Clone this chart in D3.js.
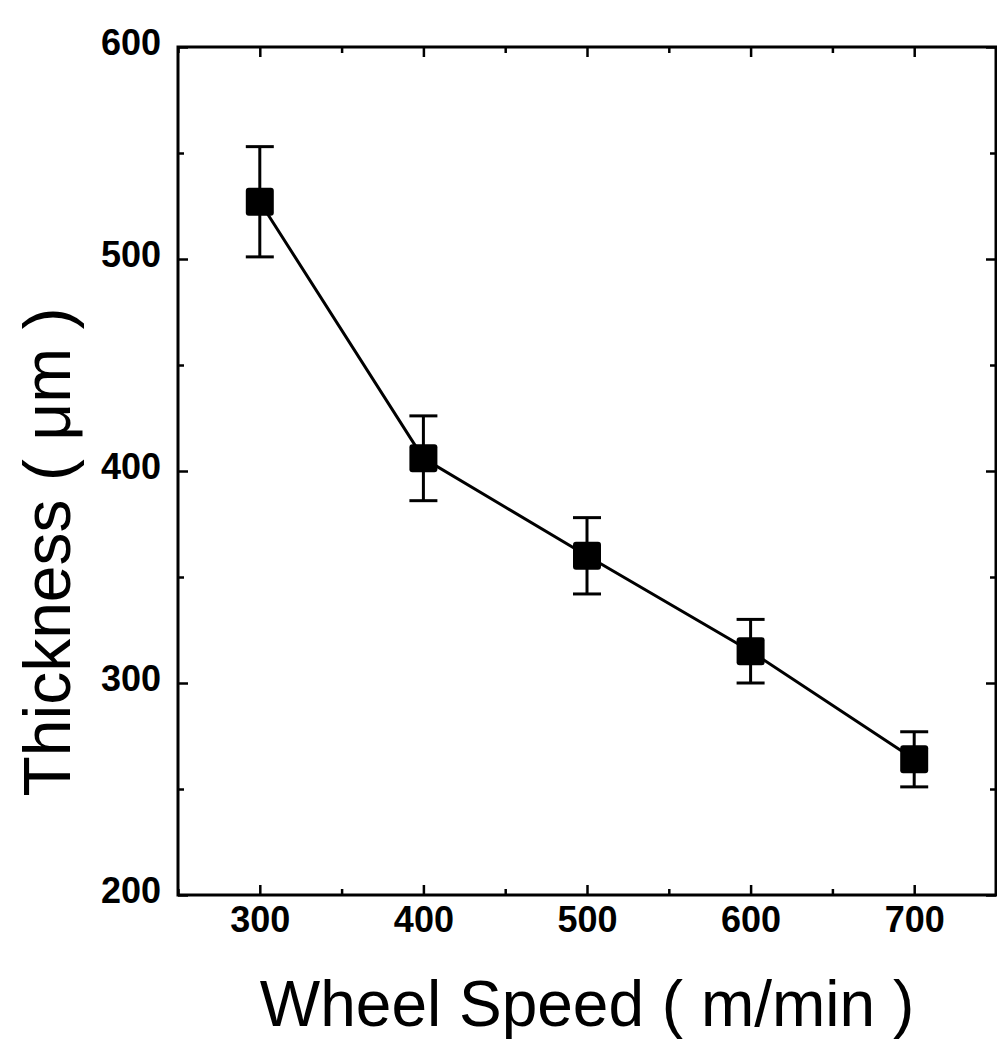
<!DOCTYPE html>
<html>
<head>
<meta charset="utf-8">
<script src="https://cdn.jsdelivr.net/npm/d3@7"></script>
<style>
  body { margin: 0; background: #fff; }
  svg { display: block; }
</style>
</head>
<body>
<svg id="svg" width="997" height="1042"></svg>
<script>
// wheel speed (m/min) vs ribbon thickness (um)
const speeds = [300, 400, 500, 600, 700];
const thickness = [527, 406, 360, 315, 264];
const errors = [26, 20, 18, 15, 13];
const xTicks = [300, 400, 500, 600, 700];
const yTicks = [200, 300, 400, 500, 600];

const data = speeds.map((s, i) => ({x: s, y: thickness[i], e: errors[i]}));

const margin = {top: 47, right: 1, bottom: 147, left: 178};
const width = 997, height = 1042;
const font = "Liberation Sans, Arial, sans-serif";

const svg = d3.select("#svg");

const x = d3.scaleLinear([250, 750], [margin.left, width - margin.right]);
const y = d3.scaleLinear([200, 600], [height - margin.bottom, margin.top]);

const minorX = d3.range(250, 751, 50).filter(v => v % 100 !== 0);
const minorY = d3.range(200, 601, 50).filter(v => v % 100 !== 0);

// frame
svg.append("rect")
    .attr("x", x(250))
    .attr("y", y(600))
    .attr("width", x(750) - x(250))
    .attr("height", y(200) - y(600))
    .attr("fill", "none")
    .attr("stroke", "#000")
    .attr("stroke-width", 3);

// inward ticks on all four sides
const axes = [
    {axis: d3.axisBottom(x), at: `translate(0,${y(200)})`, vals: xTicks, minor: minorX},
    {axis: d3.axisTop(x), at: `translate(0,${y(600)})`, vals: xTicks, minor: minorX},
    {axis: d3.axisLeft(y), at: `translate(${x(250)},0)`, vals: yTicks, minor: minorY},
    {axis: d3.axisRight(y), at: `translate(${x(750)},0)`, vals: yTicks, minor: minorY}
];

axes.forEach(a => {
    svg.append("g")
        .attr("transform", a.at)
        .call(a.axis.tickValues(a.vals).tickSize(-10).tickFormat(""))
        .call(g => g.select(".domain").remove())
        .selectAll("line").attr("stroke-width", 2.5);
    svg.append("g")
        .attr("transform", a.at)
        .call(a.axis.tickValues(a.minor).tickSize(-6).tickFormat(""))
        .call(g => g.select(".domain").remove())
        .selectAll("line").attr("stroke-width", 2.5);
});

// tick labels
svg.append("g")
    .attr("transform", `translate(0,${y(200)})`)
    .call(d3.axisBottom(x).tickValues(xTicks).tickSize(0).tickPadding(37))
    .call(g => g.select(".domain").remove())
    .selectAll("text")
    .attr("font-family", font)
    .attr("font-size", 36)
    .attr("font-weight", "bold")
    .attr("dy", 0);

svg.append("g")
    .attr("transform", `translate(${x(250)},0)`)
    .call(d3.axisLeft(y).tickValues(yTicks).tickSize(0).tickPadding(17))
    .call(g => g.select(".domain").remove())
    .selectAll("text")
    .attr("font-family", font)
    .attr("font-size", 36)
    .attr("font-weight", "bold")
    .attr("dy", "0.2em");

// connecting line
svg.append("path")
    .datum(data)
    .attr("fill", "none")
    .attr("stroke", "#000")
    .attr("stroke-width", 3)
    .attr("d", d3.line().x(d => x(d.x)).y(d => y(d.y)));

// error bars
const capW = 14;
const bars = svg.append("g")
    .attr("stroke", "#000")
    .attr("stroke-width", 3)
    .selectAll("g")
    .data(data)
    .join("g");

bars.append("line")
    .attr("x1", d => x(d.x)).attr("x2", d => x(d.x))
    .attr("y1", d => y(d.y + d.e)).attr("y2", d => y(d.y - d.e));
bars.append("line")
    .attr("x1", d => x(d.x) - capW).attr("x2", d => x(d.x) + capW)
    .attr("y1", d => y(d.y + d.e)).attr("y2", d => y(d.y + d.e));
bars.append("line")
    .attr("x1", d => x(d.x) - capW).attr("x2", d => x(d.x) + capW)
    .attr("y1", d => y(d.y - d.e)).attr("y2", d => y(d.y - d.e));

// square markers
const sq = 28;
svg.append("g")
    .selectAll("rect")
    .data(data)
    .join("rect")
    .attr("x", d => x(d.x) - sq / 2)
    .attr("y", d => y(d.y) - sq / 2)
    .attr("width", sq)
    .attr("height", sq)
    .attr("rx", 3)
    .attr("fill", "#000");

// axis titles
svg.append("text")
    .attr("x", 587)
    .attr("y", 1026)
    .attr("text-anchor", "middle")
    .attr("font-family", font)
    .attr("font-size", 64)
    .text("Wheel Speed ( m/min )");

svg.append("text")
    .attr("transform", "translate(70,552) rotate(-90)")
    .attr("text-anchor", "middle")
    .attr("font-family", font)
    .attr("font-size", 66)
    .text("Thickness ( \u03bcm )");
</script>
</body>
</html>
